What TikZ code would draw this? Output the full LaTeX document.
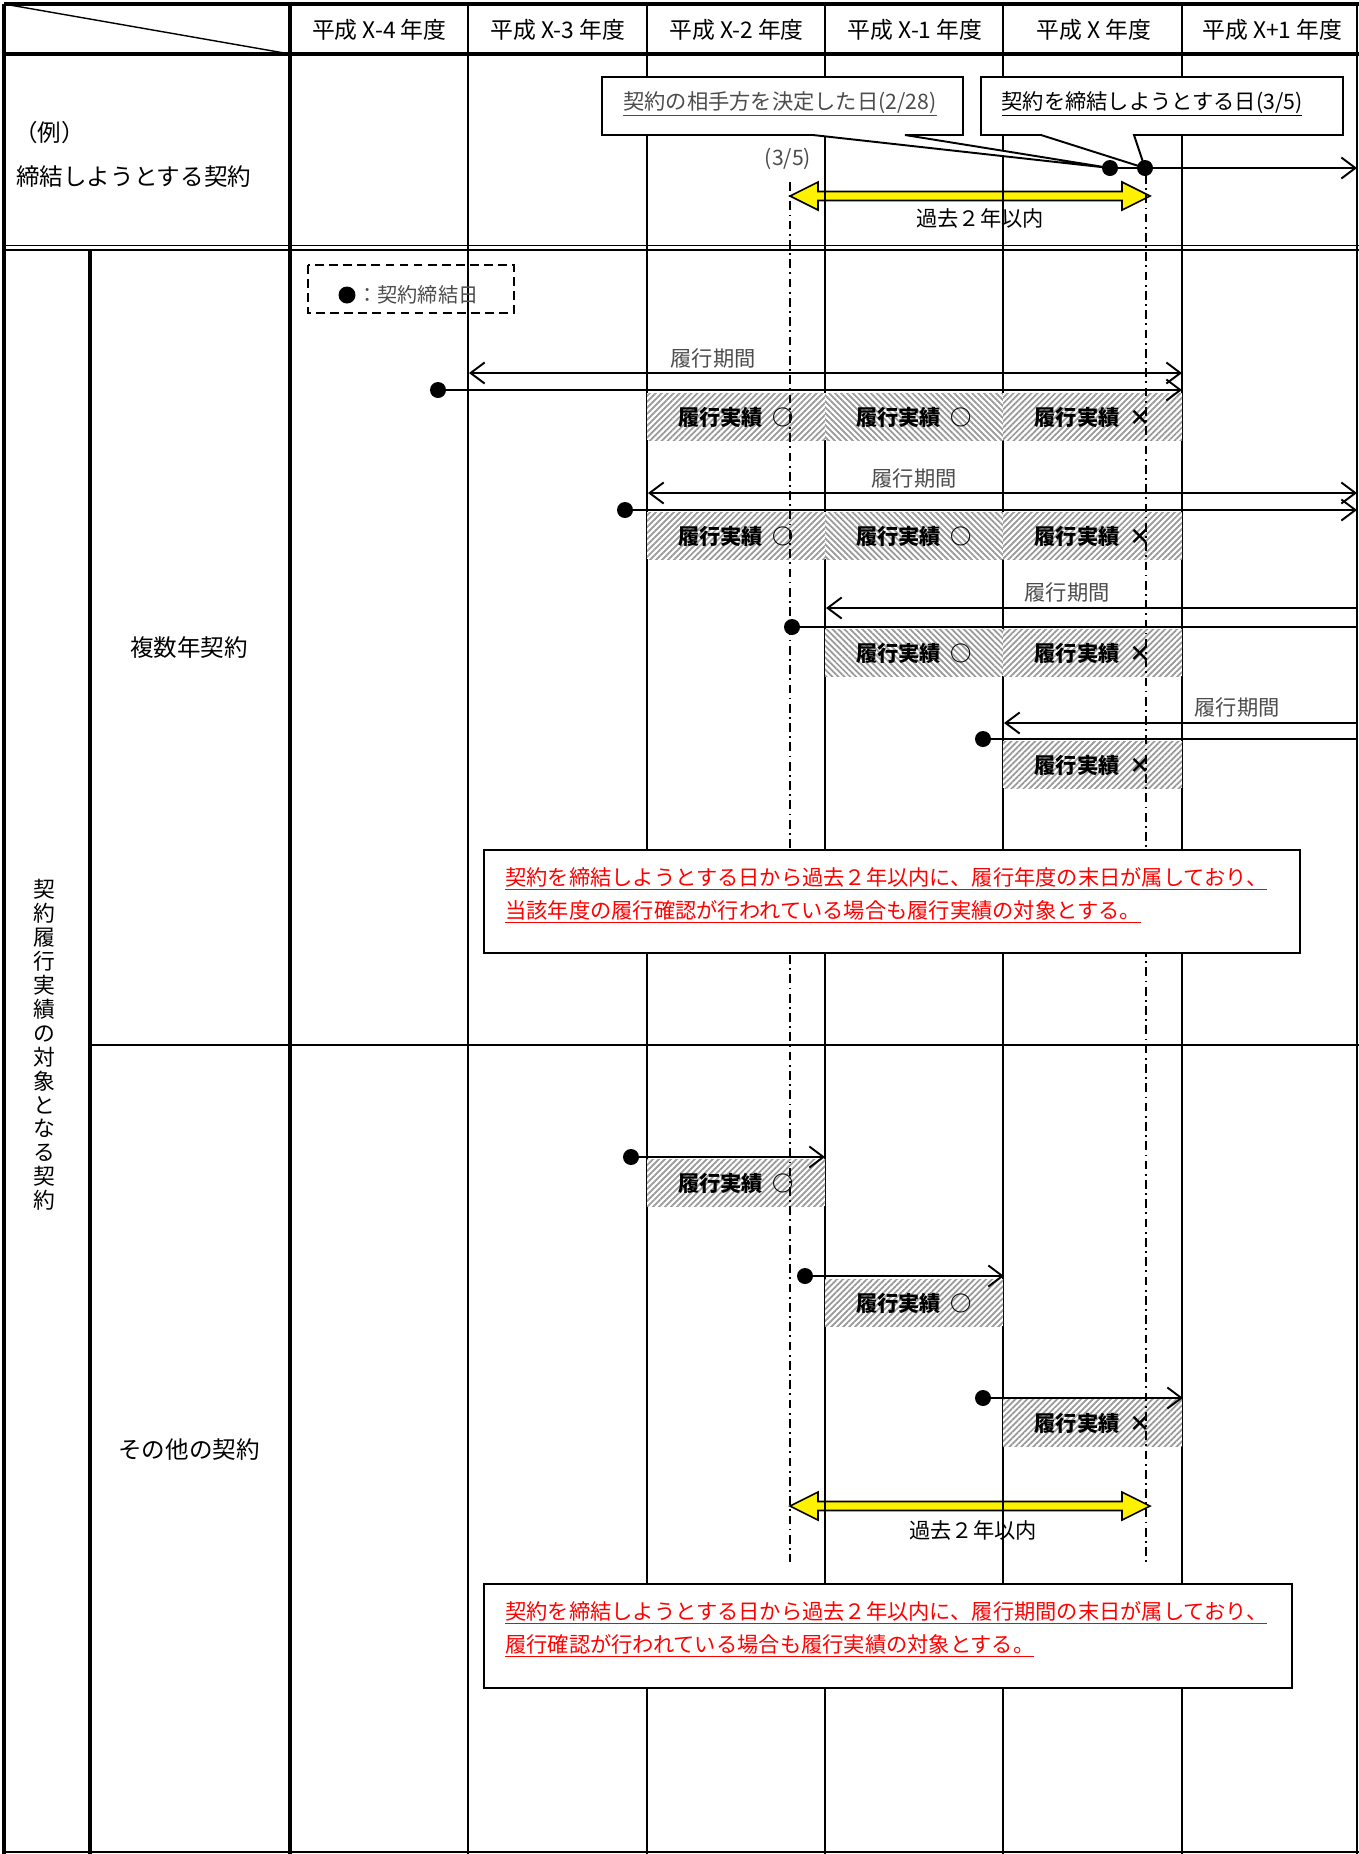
\documentclass[tikz,border=0pt]{standalone}
\usepackage{fontspec}
\setmainfont{Noto Sans CJK JP}
\usetikzlibrary{arrows.meta,patterns.meta}
\tikzset{%
	gline/.style={line width=1.1pt},
	glinethick/.style={line width=2.4pt},
	tline/.style={line width=1.1pt},
	kdot/.style={circle,fill=black,inner sep=0pt,minimum size=0.32cm},
	hatch/.style={preaction={fill=white},pattern={Lines[angle=#1,distance=2.4pt,line width=1pt]},pattern color=black!40},
	hdr/.style={font=\fontsize{13pt}{15pt}\selectfont,inner sep=0pt},
	lbl/.style={font=\fontsize{13.4pt}{16pt}\selectfont,inner sep=0pt},
	gtxt/.style={font=\fontsize{12.1pt}{14pt}\selectfont,text=black!70,inner sep=0pt},
	jlbl/.style={font=\fontsize{12.1pt}{14pt}\selectfont\bfseries,inner sep=0pt},
	rednote/.style={font=\fontsize{12.1pt}{14pt}\selectfont,text=red,inner sep=0pt,anchor=west},
	kijun/.style={dash pattern=on 5pt off 2.5pt on 1pt off 2.5pt,line width=1pt},
	yarrow/.style={draw,fill=yellow,line width=0.9pt,line join=miter},
	callout/.style={draw,fill=white,line width=1.1pt},
}
\begin{document}
\begin{tikzpicture}[x=0.02cm,y=-0.02cm,>={Straight Barb[length=8pt,width=12pt]}]
	\useasboundingbox (0,0) rectangle (1359,1854);
	
	%過去２年以内
	\foreach \y in {196,1506}
		\draw[yarrow] (790,\y) -- (818,\y-14) -- (818,\y-4.5) -- (1122,\y-4.5) -- (1122,\y-14) -- (1150,\y)
			-- (1122,\y+14) -- (1122,\y+4.5) -- (818,\y+4.5) -- (818,\y+14) -- cycle;
	
	%表の枠
	\draw[glinethick] (4,4) -- (1359,4);
	\draw[glinethick] (4,54) -- (1359,54);
	\draw[line width=1pt] (4,245.5) -- (1359,245.5);
	\draw[line width=1pt] (4,250) -- (1359,250);
	\draw[gline] (90,1045) -- (1359,1045);
	\draw[line width=1.5pt] (4,1852) -- (1359,1852);
	\draw[glinethick] (4,4) -- (4,1854);
	\draw[glinethick] (290,4) -- (290,1854);
	\draw[glinethick] (90,250) -- (90,1854);
	\foreach \x in {468,647,825,1003,1182,1357}
		\draw[gline] (\x,4) -- (\x,1854);
	\draw[line width=0.8pt] (4,4) -- (290,54);
	
	%履行実績
	\foreach \xa/\xb/\ya/\m/\ang [count=\i] in {%
		647/825/393/○/45, 825/1003/393/○/-45, 1003/1182/393/×/45,
		647/825/512/○/45, 825/1003/512/○/-45, 1003/1182/512/×/45,
		825/1003/629/○/-45, 1003/1182/629/×/45,
		1003/1182/741/×/45,
		647/825/1159/○/45, 825/1003/1279/○/45, 1003/1182/1399/×/45}
	{
		\path[hatch=\ang] (\xa,\ya) rectangle (\xb,\ya+47);
		\node[jlbl] (j\i) at ({(\xa+\xb)/2},\ya+24) {履行実績\hspace{0.45em}\m};
	}
	
	%基準日
	\draw[kijun] (790,182) -- (790,1562);
	\draw[kijun] (1146,175) -- (1146,1562);
	
	%吹き出し
	\draw[callout] (602,77) -- (963,77) -- (963,135) -- (905,135) -- (1110,168) -- (813,135) -- (602,135) -- cycle;
	\node[gtxt] (t1) at (780,104) {\underline{契約の相手方を決定した日(2/28)}};
	\draw[callout] (981,77) -- (1343,77) -- (1343,135) -- (1134,135) -- (1145,168) -- (1041,135) -- (981,135) -- cycle;
	\node[gtxt,text=black] (t2) at (1152,104) {\underline{契約を締結しようとする日(3/5)}};
	\node[gtxt] (d35) at (788,159) {(3/5)};
	
	%締結しようとする契約
	\node[kdot] (k1) at (1110,168) {};
	\node[kdot] (k2) at (1145,168) {};
	\coordinate (ke) at (1357,168);
	\draw[tline,->] (k1) -- (ke);
	
	%凡例
	\draw[dash pattern=on 5pt off 3pt,line width=1pt] (308,265) rectangle (514,313);
	\node[kdot,minimum size=0.34cm] (lg) at (347,295) {};
	\node[gtxt,anchor=west,font=\fontsize{11.5pt}{14pt}\selectfont] (lgt) at (357,295) {：契約締結日};
	
	%複数年契約 1
	\node[gtxt] (p1) at (713,358) {履行期間};
	\coordinate (s1) at (469,373);
	\coordinate (e1) at (1182,373);
	\draw[tline,<->] (s1) -- (e1);
	\node[kdot] (c1) at (438,390) {};
	\coordinate (f1) at (1182,390);
	\draw[tline,->] (c1) -- (f1);
	
	%複数年契約 2
	\node[gtxt] (p2) at (914,478) {履行期間};
	\coordinate (s2) at (648,493);
	\coordinate (e2) at (1357,493);
	\draw[tline,<->] (s2) -- (e2);
	\node[kdot] (c2) at (625,510) {};
	\coordinate (f2) at (1357,510);
	\draw[tline,->] (c2) -- (f2);
	
	%複数年契約 3
	\node[gtxt] (p3) at (1067,592) {履行期間};
	\coordinate (s3) at (826,608);
	\coordinate (e3) at (1357,608);
	\draw[tline,<-] (s3) -- (e3);
	\node[kdot] (c3) at (792,627) {};
	\coordinate (f3) at (1357,627);
	\draw[tline] (c3) -- (f3);
	
	%複数年契約 4
	\node[gtxt] (p4) at (1237,707) {履行期間};
	\coordinate (s4) at (1004,723);
	\coordinate (e4) at (1357,723);
	\draw[tline,<-] (s4) -- (e4);
	\node[kdot] (c4) at (983,739) {};
	\coordinate (f4) at (1357,739);
	\draw[tline] (c4) -- (f4);
	
	%その他の契約
	\node[kdot] (o1) at (631,1157) {};
	\coordinate (g1) at (825,1157);
	\draw[tline,->] (o1) -- (g1);
	\node[kdot] (o2) at (805,1276) {};
	\coordinate (g2) at (1004,1276);
	\draw[tline,->] (o2) -- (g2);
	\node[kdot] (o3) at (983,1398) {};
	\coordinate (g3) at (1183,1398);
	\draw[tline,->] (o3) -- (g3);
	
	%注記
	\draw[callout] (484,850) rectangle (1300,953);
	\node[rednote] (n1) at (505,879) {\underline{契約を締結しようとする日から過去２年以内に、履行年度の末日が属しており、}};
	\node[rednote] (n2) at (505,912) {\underline{当該年度の履行確認が行われている場合も履行実績の対象とする。}};
	\draw[callout] (484,1584) rectangle (1292,1688);
	\node[rednote] (n3) at (505,1613) {\underline{契約を締結しようとする日から過去２年以内に、履行期間の末日が属しており、}};
	\node[rednote] (n4) at (505,1646) {\underline{履行確認が行われている場合も履行実績の対象とする。}};
	
	%見出し
	\foreach \lbl [count=\i] in {X-4,X-3,X-2,X-1,X,X+1}
		\node[hdr] (h\i) at (290+178.6*\i-89.3,30) {平成 \lbl\ 年度};
	\node[lbl,anchor=west] (rei) at (14,133) {（例）};
	\node[lbl,anchor=west] (teiketsu) at (16,177) {締結しようとする契約};
	\node[lbl] (fukusu) at (189,648) {複数年契約};
	\node[lbl] (sonota) at (189,1450) {その他の契約};
	\node[lbl,align=center,font=\fontsize{12.4pt}{13.6pt}\selectfont] (taisho) at (44,1045)
		{契\\約\\履\\行\\実\\績\\の\\対\\象\\と\\な\\る\\契\\約};
	\node[gtxt,text=black] (kako1) at (980,218) {過去２年以内};
	\node[gtxt,text=black] (kako2) at (973,1530) {過去２年以内};
\end{tikzpicture}
\end{document}
